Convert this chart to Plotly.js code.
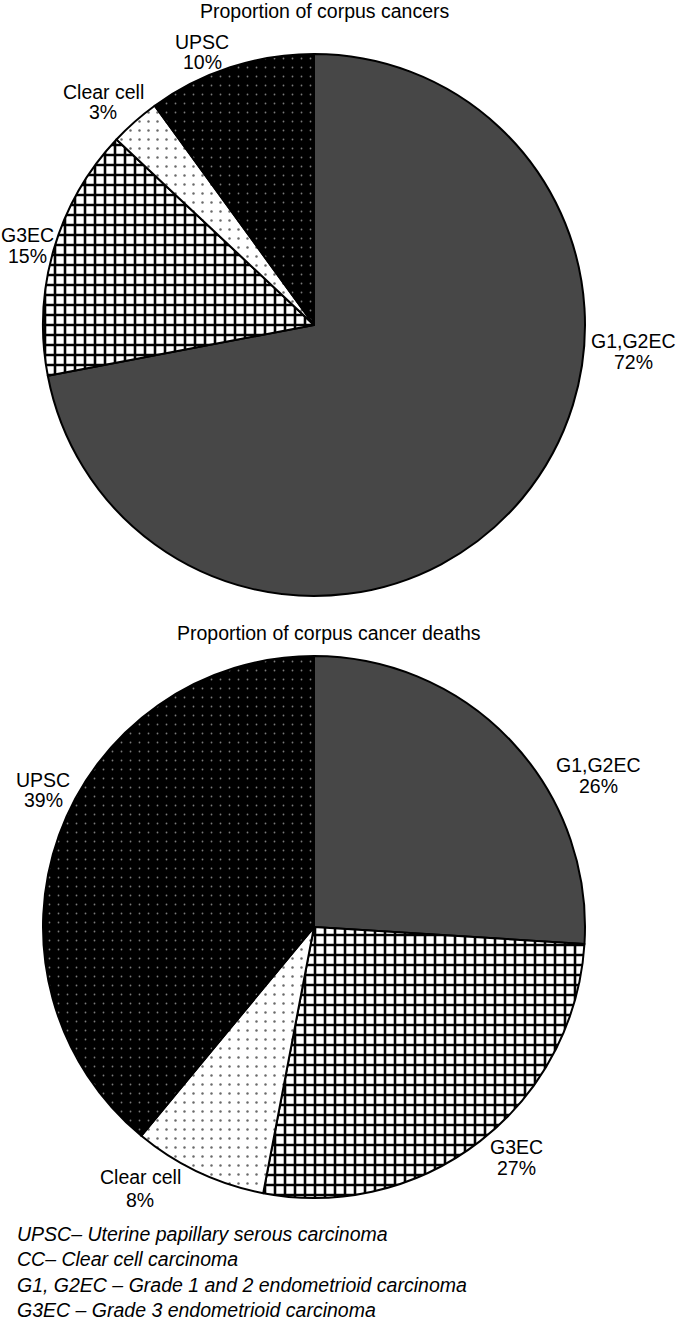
<!DOCTYPE html>
<html>
<head>
<meta charset="utf-8">
<script src="https://cdn.plot.ly/plotly-3.0.1.min.js"></script>
<style>
html,body{margin:0;padding:0;background:#fff;}
#chart{width:678px;height:1321px;}
</style>
</head>
<body>
<div id="chart"></div>
<script>
// ---- data ----
var categories = ['G1,G2EC', 'G3EC', 'Clear cell', 'UPSC'];
var casesPct = [72, 15, 3, 10];
var deathsPct = [26, 27, 8, 39];
var chartTitles = ['Proportion of corpus cancers', 'Proportion of corpus cancer deaths'];
var noteAbbrev = ['UPSC', 'CC', 'G1, G2EC', 'G3EC'];
var noteSep = ['\u2013 ', '\u2013 ', ' \u2013 ', ' \u2013 '];
var noteText = ['Uterine papillary serous carcinoma', 'Clear cell carcinoma',
                'Grade 1 and 2 endometrioid carcinoma', 'Grade 3 endometrioid carcinoma'];

// ---- styling ----
var W = 678, H = 1321;
var FONT = 'Liberation Sans, Arial, Helvetica, sans-serif';
var FS = 19.5;
var pattern = {
  shape:   ['', '+', '.', '.'],
  bgcolor: ['#474747', '#ffffff', '#ffffff', '#000000'],
  fgcolor: ['#474747', '#000000', '#6a6a6a', '#7a7a7a'],
  size:    [8, 10, 9, 9],
  solidity:[0.1, 0.45, 0.06, 0.03]
};
function px2x(p){ return p / W; }
function px2y(p){ return 1 - p / H; }

function pieTrace(values, cy) {
  var cx = 314, r = 271;
  return {
    type: 'pie',
    labels: categories,
    values: values,
    sort: false,
    direction: 'clockwise',
    rotation: 0,
    textinfo: 'none',
    hoverinfo: 'none',
    showlegend: false,
    domain: {x: [px2x(cx - r), px2x(cx + r)], y: [px2y(cy + r), px2y(cy - r)]},
    marker: {
      colors: pattern.bgcolor,
      line: {color: '#000000', width: 2},
      pattern: pattern
    }
  };
}

var data = [pieTrace(casesPct, 325), pieTrace(deathsPct, 927)];

// label positions (pixels) for [x, name line y, percent line y]
var topLabelPos = [[633, 341, 362], [27, 235, 256], [103, 92, 112], [202, 42, 62]];
var botLabelPos = [[598, 765, 786], [516, 1147, 1168], [140, 1177, 1200], [43, 780, 800]];

var annotations = [];
function addAnn(text, x, y, size, extra) {
  var a = {text: text, xref: 'paper', yref: 'paper', x: px2x(x), y: px2y(y),
           xanchor: 'center', yanchor: 'middle', showarrow: false,
           font: {family: FONT, size: size, color: '#000'}};
  for (var k in (extra || {})) a[k] = extra[k];
  annotations.push(a);
}
addAnn(chartTitles[0], 325, 11, FS);
addAnn(chartTitles[1], 329, 633, FS);
function addLabels(values, pos) {
  for (var i = 0; i < categories.length; i++) {
    addAnn(categories[i], pos[i][0], pos[i][1], FS);
    addAnn(values[i] + '%', pos[i][0], pos[i][2], FS);
  }
}
addLabels(casesPct, topLabelPos);
addLabels(deathsPct, botLabelPos);

var noteLines = [];
for (var i = 0; i < noteAbbrev.length; i++) {
  noteLines.push('<i>' + noteAbbrev[i] + noteSep[i] + noteText[i] + '</i>');
}
addAnn(noteLines.join('<br>'), 15, 1272, FS, {xanchor: 'left', align: 'left'});

var layout = {
  width: W, height: H,
  margin: {l: 0, r: 0, t: 0, b: 0, pad: 0},
  paper_bgcolor: '#ffffff',
  plot_bgcolor: '#ffffff',
  annotations: annotations
};

Plotly.newPlot('chart', data, layout, {displayModeBar: false, staticPlot: true});
</script>
</body>
</html>
